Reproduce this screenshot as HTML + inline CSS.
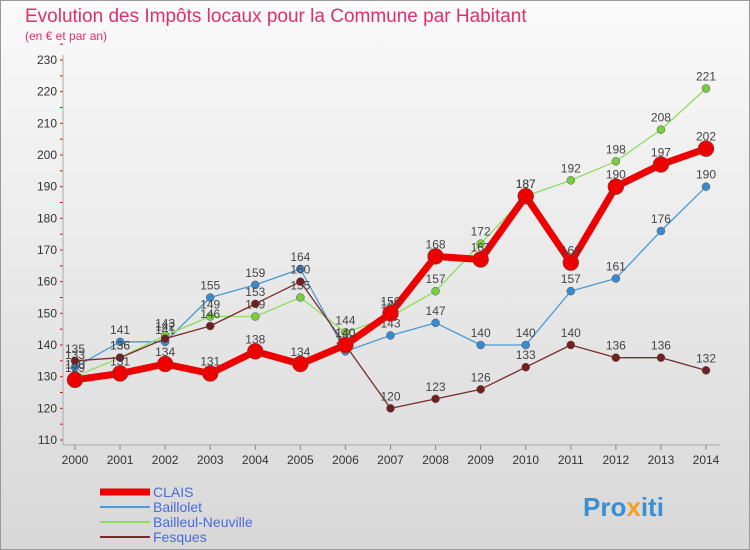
<!DOCTYPE html>
<html><head><meta charset="utf-8"><style>
body{margin:0;width:750px;height:550px;font-family:"Liberation Sans",sans-serif;overflow:hidden}
#wrap{position:relative;width:748px;height:548px;border:1px solid #999;background:linear-gradient(#fafafa,#d8d8d8)}
</style></head><body>
<div id="wrap">
<svg id="chart" width="750" height="550" style="position:absolute;left:-1px;top:-1px">
<text x="25" y="22" font-size="19" fill="#e0306a">Evolution des Impôts locaux pour la Commune par Habitant</text>
<text x="25" y="40" font-size="12" fill="#e0306a">(en € et par an)</text>
<g id="grid"></g><g id="series"></g><g id="legend"></g>
<text x="583" y="516" font-size="26" font-weight="bold" fill="#3a8fd0">Pro<tspan fill="#f0a020">x</tspan>iti</text>
</svg></div>
<script>
const years=[2000,2001,2002,2003,2004,2005,2006,2007,2008,2009,2010,2011,2012,2013,2014];
const yTicks=[110,120,130,140,150,160,170,180,190,200,210,220,230];
const clais=[129,131,134,131,138,134,140,150,168,167,187,166,190,197,202];
const baillolet=[133,141,141,155,159,164,138,143,147,140,140,157,161,176,190];
const bailleul=[130,136,143,149,149,155,144,149,157,172,187,192,198,208,221];
const fesques=[135,136,142,146,153,160,140,120,123,126,133,140,136,136,132];
const NS="http://www.w3.org/2000/svg";
const xS=i=>75+i*(706-75)/14;
const yS=v=>440-(v-110)*380/120;
function mk(t,a,p){const e=document.createElementNS(NS,t);for(const k in a)e.setAttribute(k,a[k]);p.appendChild(e);return e;}
const grid=document.getElementById('grid');
yTicks.forEach(v=>{
 const t=mk('text',{x:57,y:yS(v)+4,'font-size':12,'text-anchor':'end',fill:'#333'},grid);t.textContent=v;
 
 
 mk('line',{x1:60,x2:63,y1:yS(v),y2:yS(v),stroke:'#e00'},grid);
 mk('line',{x1:60,x2:63,y1:yS(v+5),y2:yS(v+5),stroke:'#e00'},grid);
});
mk('line',{x1:63,x2:63,y1:55,y2:445,stroke:'#aaa'},grid);
mk('line',{x1:63,x2:720,y1:445,y2:445,stroke:'#aaa'},grid);
years.forEach((y,i)=>{
 mk('line',{x1:xS(i),x2:xS(i),y1:445,y2:450,stroke:'#888'},grid);
 const t=mk('text',{x:xS(i),y:464,'font-size':12,'text-anchor':'middle',fill:'#333'},grid);t.textContent=y;
 
 
});
const sg=document.getElementById('series');
function draw(data,color,w,r,name,dot){
 const g=mk('g',{},sg);
 
 
 mk('polyline',{points:data.map((v,i)=>xS(i)+','+yS(v)).join(' '),fill:'none',stroke:color,'stroke-width':w,'stroke-linejoin':'round'},g);
 data.forEach((v,i)=>{
  const c=mk('circle',{cx:xS(i),cy:yS(v),r:r,fill:dot,stroke:'#555','stroke-width':0.5},g);
  
  
  const t=mk('text',{x:xS(i),y:yS(v)-8,'font-size':12,'text-anchor':'middle',fill:'#444'},g);t.textContent=v;
  
  
 });
}
draw(baillolet,'#4a9ad4',1.3,4,'series-baillolet','#3a8ad0');
draw(bailleul,'#8fdc60',1.3,4,'series-bailleul-neuville','#7acc40');
draw(fesques,'#7a2a2a',1.3,4,'series-fesques','#702020');
draw(clais,'#ee0000',7,8,'series-clais','#e00');
const lg=document.getElementById('legend');
[['CLAIS','#ee0000',7],['Baillolet','#4a9ad4',2],['Bailleul-Neuville','#8fdc60',2],['Fesques','#7a2a2a',2]].forEach((s,i)=>{
 const y=492+i*15;
 const g=mk('g',{},lg);
 
 
 mk('line',{x1:100,x2:150,y1:y,y2:y,stroke:s[1],'stroke-width':s[2]},g);
 const t=mk('text',{x:153,y:y+5,'font-size':14,fill:'#4a6ad8'},g);t.textContent=s[0];
});
</script>
</body></html>
